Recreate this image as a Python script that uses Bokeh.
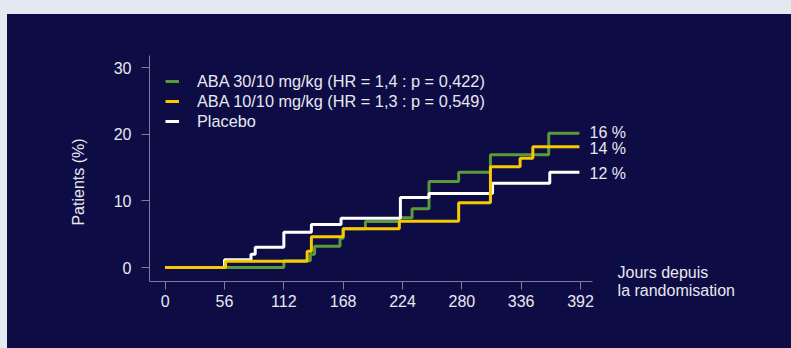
from bokeh.plotting import figure
from bokeh.models import Range1d, FixedTicker, Label, Legend, LegendItem, Spacer, GlobalInlineStyleSheet
from bokeh.layouts import column, row
from bokeh.embed import file_html
from bokeh.resources import INLINE

# ---- data ----
green_days = [0, 112, 137, 141, 165, 168, 189, 221, 233, 249, 277, 307, 362, 391]
green_pct = [0, 1.0, 2.0, 3.2, 4.4, 5.8, 6.9, 7.45, 8.8, 12.9, 14.3, 16.9, 20.15, 20.15]

yellow_days = [0, 57, 134, 138, 168, 221, 277, 307, 335, 347, 391]
yellow_pct = [0, 0.95, 2.45, 4.6, 5.8, 6.95, 9.7, 15.1, 16.4, 18.1, 18.1]

white_days = [0, 56, 81, 85, 112, 138, 166, 222, 249, 309, 363, 391]
white_pct = [0, 1.15, 2.0, 3.05, 5.3, 6.45, 7.4, 10.5, 11.1, 12.65, 14.3, 14.3]

series_names = ["ABA 30/10 mg/kg (HR = 1,4 : p = 0,422)",
                "ABA 10/10 mg/kg (HR = 1,3 : p = 0,549)",
                "Placebo"]
end_labels = ["16 %", "14 %", "12 %"]
end_label_y = [20.2, 17.9, 14.1]
x_label = "Jours depuis\nla randomisation"

x_ticks = [0, 56, 112, 168, 224, 280, 336, 392]
y_ticks = [0, 10, 20, 30]

BG = "#0e0c45"
PAGE = "#e3e9f0"
GREEN = "#5a9a3b"
YELLOW = "#f7c900"
WHITE = "#ffffff"
AXIS = "#7c7c9e"
TXT = "#e8e8f0"
FONT = "Liberation Sans"

X_AX = (-14.8, 403.3)
Y_AX = (-2.1, 31.8)

p = figure(width=784, height=334, output_backend="svg", toolbar_location=None,
           x_range=Range1d(X_AX[0], 561.9), y_range=Range1d(-6.15, Y_AX[1]),
           min_border_left=142, min_border_right=31, min_border_top=41, min_border_bottom=40)
p.background_fill_color = BG
p.border_fill_color = BG
p.outline_line_color = None
p.xgrid.visible = False
p.ygrid.visible = False

for ax in (p.xaxis[0], p.yaxis[0]):
    ax.axis_line_color = AXIS
    ax.axis_line_width = 1
    ax.major_tick_line_color = AXIS
    ax.major_tick_in = 0
    ax.major_tick_out = 8
    ax.minor_tick_line_color = None
    ax.major_label_text_color = TXT
    ax.major_label_text_font = FONT
    ax.major_label_text_font_size = "16px"

p.xaxis.ticker = FixedTicker(ticks=x_ticks)
p.yaxis.ticker = FixedTicker(ticks=y_ticks)
p.xaxis.bounds = X_AX
p.yaxis.bounds = Y_AX
p.xaxis.fixed_location = Y_AX[0]
p.xaxis.major_label_standoff = 5
p.yaxis.major_label_standoff = 10
p.yaxis.axis_label = "Patients (%)"
p.yaxis.axis_label_text_color = TXT
p.yaxis.axis_label_text_font = FONT
p.yaxis.axis_label_text_font_size = "16px"
p.yaxis.axis_label_text_font_style = "normal"
p.yaxis.axis_label_standoff = 24

rg = p.step(green_days, green_pct, mode="after", line_color=GREEN, line_width=3)
rw = p.step(white_days, white_pct, mode="after", line_color=WHITE, line_width=3)
ry = p.step(yellow_days, yellow_pct, mode="after", line_color=YELLOW, line_width=3)

legend = Legend(items=[LegendItem(label=series_names[0], renderers=[rg]),
                       LegendItem(label=series_names[1], renderers=[ry]),
                       LegendItem(label=series_names[2], renderers=[rw])],
                location="top_left", margin=0, padding=16, spacing=0,
                glyph_width=14, glyph_height=20, label_height=20, label_standoff=18,
                label_text_color=TXT, label_text_font=FONT, label_text_font_size="16.3px",
                background_fill_alpha=0, border_line_alpha=0)
p.add_layout(legend)

for txt, yv in zip(end_labels, end_label_y):
    p.add_layout(Label(x=400.5, y=yv, text=txt, text_color=TXT, text_font=FONT,
                       text_font_size="16px", text_baseline="middle", text_align="left"))

p.add_layout(Label(x=427, y=0.6, text=x_label, text_color=TXT,
                   text_font=FONT, text_font_size="16px", text_baseline="top",
                   text_align="left", text_line_height=1.08))

css = GlobalInlineStyleSheet(css="html,body{background:%s;margin:0;padding:0;overflow:hidden;}" % BG)
inner = row(Spacer(width=7, height=334, styles={"background-color": PAGE}), p,
            width=791, height=334)
layout = column(Spacer(width=791, height=14, styles={"background-color": PAGE}), inner,
                width=791, height=348, stylesheets=[css])

open("out.html", "w").write(file_html(layout, INLINE))
